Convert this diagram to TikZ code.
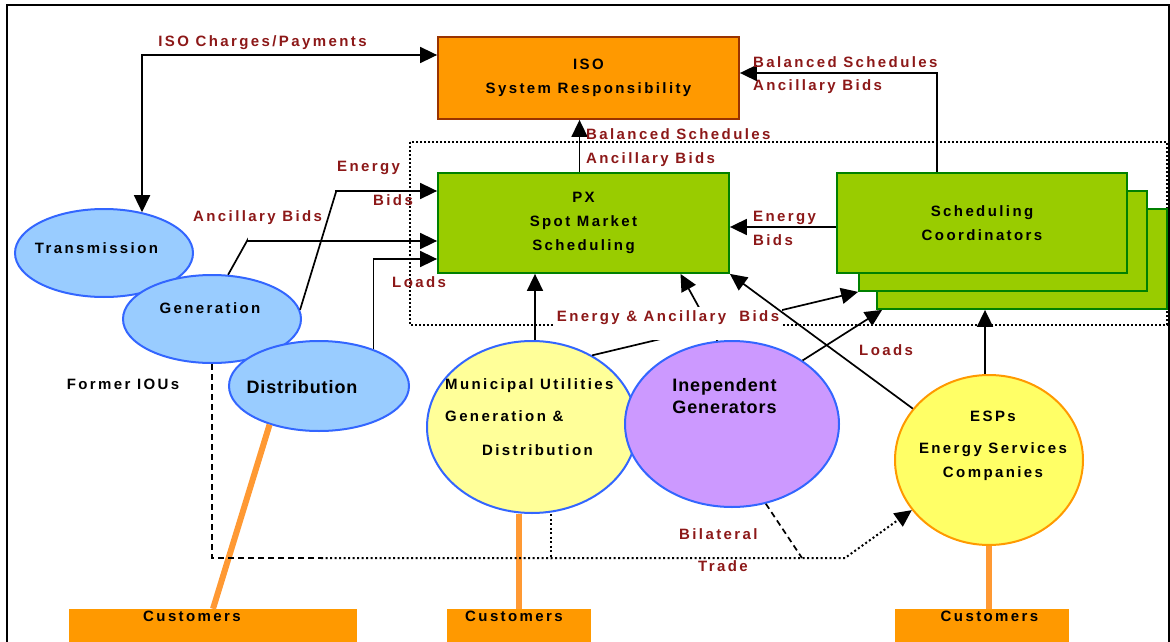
\documentclass[tikz,border=0pt]{standalone}
\usepackage{fontspec}
\setmainfont{Liberation Sans}
\newfontfamily\spc[LetterSpace=16]{Liberation Sans}
\newfontfamily\bigsp[LetterSpace=5]{Liberation Sans}
\usetikzlibrary{arrows.meta,shapes.geometric}
\definecolor{lblred}{RGB}{140,24,24}
\definecolor{isofill}{RGB}{255,153,0}
\definecolor{isoline}{RGB}{153,51,0}
\definecolor{pxfill}{RGB}{153,204,0}
\definecolor{pxline}{RGB}{0,128,0}
\definecolor{ioublue}{RGB}{153,204,255}
\definecolor{ellline}{RGB}{51,102,255}
\definecolor{munifill}{RGB}{255,255,153}
\definecolor{indfill}{RGB}{204,153,255}
\definecolor{espfill}{RGB}{255,255,102}
\definecolor{feedline}{RGB}{255,153,51}
\begin{document}
\begin{tikzpicture}[x=1pt,y=-1pt,
  >={Triangle[length=17pt,width=16pt]},
  txt/.style={font=\spc\bfseries\fontsize{15}{24}\selectfont,inner sep=0},
  lbl/.style={txt,text=lblred,anchor=base west},
  bigtxt/.style={font=\bigsp\bfseries\fontsize{18}{22}\selectfont,inner sep=0,align=center},
  box/.style={rectangle,line width=1.8pt,inner sep=0,align=center,txt},
  ell/.style={ellipse,draw=ellline,line width=2pt,inner sep=0},
  cust/.style={rectangle,fill=isofill,inner sep=0,minimum height=51pt},
  arr/.style={line width=1.7pt,->},
  feed/.style={line width=6pt,draw=feedline},
  dots/.style={line width=2pt,dash pattern=on 2pt off 2.5pt},
  dashes/.style={line width=1.7pt,dash pattern=on 6pt off 4pt}]
\path[use as bounding box] (0,0) rectangle (1170,642);
\clip (0,0) rectangle (1170,642);
\draw[line width=2pt] (7,660) |- (1169,5) -- (1169,660);
% PX area
\draw[line width=2pt,dash pattern=on 2pt off 2pt] (410,142) rectangle (1167,325);
% boxes
\node[box,draw=isoline,fill=isofill,minimum width=301pt,minimum height=82pt] (iso) at (588.5,78) {ISO\\System Responsibility};
\node[box,draw=pxline,fill=pxfill,minimum width=290pt,minimum height=100pt] (sc3) at (1022,259) {};
\node[box,draw=pxline,fill=pxfill,minimum width=288pt,minimum height=100pt] (sc2) at (1003,241) {};
\node[box,draw=pxline,fill=pxfill,minimum width=290pt,minimum height=100pt] (sc) at (982,223) {Scheduling\\Coordinators};
\node[box,draw=pxline,fill=pxfill,minimum width=291pt,minimum height=100pt] (px) at (583.5,223) {PX\\Spot Market\\Scheduling};
% ellipses
\node[ell,fill=ioublue,minimum width=178pt,minimum height=88pt] (trans) at (104,253) {};
\node[ell,fill=ioublue,minimum width=178pt,minimum height=88pt] (gen) at (212,319) {};
\node[ell,fill=ioublue,minimum width=180pt,minimum height=90pt] (dist) at (319,386) {};
\node[ell,fill=munifill,minimum width=210pt,minimum height=172pt] (muni) at (532,427) {};
\node[ell,fill=indfill,minimum width=214pt,minimum height=166pt] (indep) at (732,424) {};
\node[ell,draw=isofill,fill=espfill,minimum width=188pt,minimum height=170pt] (esp) at (989,460) {};
% customers
\node[cust,minimum width=288pt] (custl) at (213,634.5) {};
\node[cust,minimum width=144pt] (custm) at (519,634.5) {};
\node[cust,minimum width=174pt] (custr) at (982,634.5) {};
\draw[feed] (dist.218) -- (custl.north);
\draw[feed] (muni.south -| custm.north) -- (custm.north);
\draw[feed] (esp.south) -- (esp.south |- custr.north);
% bilateral trade
\coordinate (tr1) at (321,558);
\coordinate (tr2) at (845,558);
\coordinate (bt) at (802,558);
\draw[dashes] (gen.south) |- (tr1);
\draw[dots] ([xshift=19pt]muni.south) -- ++(0,45);
\draw[dots,->] (tr1) -- (tr2) -- (esp.213);
\draw[dashes] (indep.-67) -- (bt);
% flows
\draw[arr,<->] (trans.47) |- ([yshift=23pt]iso.west);
\draw[arr] ([xshift=-4pt]px.north) -- ([xshift=-4pt]px.north |- iso.south);
\draw[arr] ([xshift=-45pt]sc.north) |- ([yshift=5pt]iso.east);
\draw[arr] ([yshift=-4pt]sc.west) -- ([yshift=-4pt]px.east);
\draw[arr] (gen.70) -- ++(19,-34) |- ([yshift=-18pt]px.west);
\draw[arr] (gen.6) -- ++(36,-118) |- ([yshift=32pt]px.west);
\draw[arr] (dist.34) |- ([yshift=-36pt]px.west);
\draw[arr] ([xshift=3pt]muni.north) -- ([xshift=3pt]muni.north |- px.south);
\draw[arr] (muni.50) -- (sc2.south west);
\draw[arr] (indep.100) -- ([xshift=97pt]px.south);
\draw[arr] (indep.42) -- ([xshift=6pt]sc3.south west);
\draw[arr] ([xshift=-4pt]esp.north) -- ([xshift=-4pt]esp.north |- sc3.south);
\node[lbl,anchor=base,fill=white,inner xsep=3pt,inner ysep=3pt,text height=11pt,text depth=16pt] (eab) at (668,321) {Energy \& Ancillary~ Bids};
\draw[arr] (esp.146) -- (px.south east);
% texts
\node[txt,anchor=base] (ttrans) at (96.5,253) {Transmission};
\node[txt,anchor=base] (tgen) at (210,313) {Generation};
\node[bigtxt,anchor=base] (tdist) at (302,393) {Distribution};
\node[txt,anchor=base] (tiou) at (123,389) {Former IOUs};
\node[txt,anchor=base west] (tmun1) at (445,389) {Municipal Utilities};
\node[txt,anchor=base west] (tmun2) at (445,421) {Generation \&};
\node[txt,anchor=base west] (tmun3) at (482,455) {Distribution};
\node[bigtxt,anchor=base] (tind) at (724.5,391) {Inependent};
\node[bigtxt,anchor=base] (tind2) at (724.5,413) {Generators};
\node[txt,anchor=base] (tesp1) at (993,421) {ESPs};
\node[txt,anchor=base] (tesp2) at (993,453) {Energy Services};
\node[txt,anchor=base] (tesp3) at (993,477) {Companies};
\node[txt,anchor=base] (tcl) at (192,621) {Customers};
\node[txt,anchor=base] (tcm) at (514,621) {Customers};
\node[txt,anchor=base] (tcr) at (989.5,621) {Customers};
% labels
\node[lbl,anchor=base] (lchg) at (262.5,47) {ISO Charges/Payments};
\node[lbl] (lbs1) at (753,67) {Balanced Schedules};
\node[lbl] (lab1) at (753,91) {Ancillary Bids};
\node[lbl] (lbs2) at (586,139) {Balanced Schedules};
\node[lbl] (lab2) at (586,163) {Ancillary Bids};
\node[lbl] (leb1) at (753,221) {Energy};
\node[lbl] (leb2) at (753,245) {Bids};
\node[lbl] (len) at (337,171) {Energy};
\node[lbl] (lbid) at (373,205) {Bids};
\node[lbl] (lanc) at (193,221) {Ancillary Bids};
\node[lbl] (lld1) at (392,287) {Loads};
\node[lbl] (lld2) at (859,355) {Loads};
\node[lbl] (lbil) at (679,539) {Bilateral};
\node[lbl] (ltrd) at (698,571) {Trade};
\end{tikzpicture}
\end{document}
